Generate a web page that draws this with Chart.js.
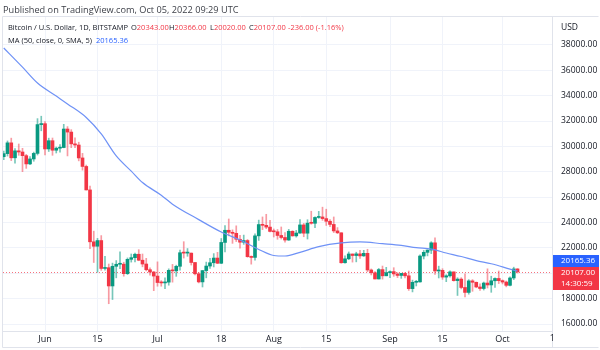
<!DOCTYPE html>
<html>
<head>
<meta charset="utf-8">
<title>Bitcoin / U.S. Dollar, 1D, BITSTAMP</title>
<script src="https://cdn.jsdelivr.net/npm/chart.js@4.4.1/dist/chart.umd.min.js"></script>
<style>
  html, body { margin: 0; padding: 0; background: #ffffff; }
  canvas { display: block; }
</style>
</head>
<body>
<canvas id="chart" width="600" height="350"></canvas>
<script>
// Daily BITSTAMP BTC/USD candles, 21 May - 5 Oct 2022
const dates = [
  '2022-05-21','2022-05-22','2022-05-23','2022-05-24','2022-05-25','2022-05-26','2022-05-27','2022-05-28','2022-05-29','2022-05-30','2022-05-31',
  '2022-06-01','2022-06-02','2022-06-03','2022-06-04','2022-06-05','2022-06-06','2022-06-07','2022-06-08','2022-06-09','2022-06-10',
  '2022-06-11','2022-06-12','2022-06-13','2022-06-14','2022-06-15','2022-06-16','2022-06-17','2022-06-18','2022-06-19','2022-06-20',
  '2022-06-21','2022-06-22','2022-06-23','2022-06-24','2022-06-25','2022-06-26','2022-06-27','2022-06-28','2022-06-29','2022-06-30',
  '2022-07-01','2022-07-02','2022-07-03','2022-07-04','2022-07-05','2022-07-06','2022-07-07','2022-07-08','2022-07-09','2022-07-10',
  '2022-07-11','2022-07-12','2022-07-13','2022-07-14','2022-07-15','2022-07-16','2022-07-17','2022-07-18','2022-07-19','2022-07-20',
  '2022-07-21','2022-07-22','2022-07-23','2022-07-24','2022-07-25','2022-07-26','2022-07-27','2022-07-28','2022-07-29','2022-07-30','2022-07-31',
  '2022-08-01','2022-08-02','2022-08-03','2022-08-04','2022-08-05','2022-08-06','2022-08-07','2022-08-08','2022-08-09','2022-08-10',
  '2022-08-11','2022-08-12','2022-08-13','2022-08-14','2022-08-15','2022-08-16','2022-08-17','2022-08-18','2022-08-19','2022-08-20',
  '2022-08-21','2022-08-22','2022-08-23','2022-08-24','2022-08-25','2022-08-26','2022-08-27','2022-08-28','2022-08-29','2022-08-30','2022-08-31',
  '2022-09-01','2022-09-02','2022-09-03','2022-09-04','2022-09-05','2022-09-06','2022-09-07','2022-09-08','2022-09-09','2022-09-10',
  '2022-09-11','2022-09-12','2022-09-13','2022-09-14','2022-09-15','2022-09-16','2022-09-17','2022-09-18','2022-09-19','2022-09-20',
  '2022-09-21','2022-09-22','2022-09-23','2022-09-24','2022-09-25','2022-09-26','2022-09-27','2022-09-28','2022-09-29','2022-09-30',
  '2022-10-01','2022-10-02','2022-10-03','2022-10-04','2022-10-05'
];

const opens = [
  29190,29430,30280,29100,29650,29560,29270,28620,29010,29450,31720,
  31790,29800,30450,29700,29860,29910,31370,31130,30200,30110,
  29090,28420,26570,22480,22130,22580,20380,20440,19000,20550,
  20710,20720,19970,21100,21230,21500,21030,20730,20280,20100,
  19780,19270,19240,19300,20230,20190,20550,21620,21590,21590,
  20850,19960,19320,20210,20570,20830,21200,20790,22430,23390,
  23230,23150,22680,22450,22580,21310,21250,22950,23840,23780,23640,
  23300,23270,22980,22820,22620,23310,22950,23170,23810,23160,
  23950,23940,24400,24440,24310,24100,23850,23340,23190,20830,
  21140,21520,21400,21530,21370,21570,20260,20040,19550,20290,19800,
  20050,20130,19950,19830,19990,19800,18790,19290,19320,21360,
  21650,21830,22400,20180,20230,19700,19800,20110,19420,19540,
  18880,18490,19400,19290,18920,18800,19230,19080,19410,19590,
  19420,19310,19050,19630,20343
];

const highs = [
  29640,30430,30650,29830,30190,29850,29370,29190,29550,32190,32380,
  31950,30650,30660,29950,30140,31740,31560,31320,30670,30330,
  29450,28530,26870,23320,22750,22970,21330,20730,20800,21000,
  21700,20870,21210,21520,21600,21860,21520,21180,20420,20150,
  20900,19420,19640,20350,20700,20640,21830,22490,21950,21600,
  20850,20050,20230,20880,21180,21550,21650,22740,23750,24280,
  23420,23740,22990,23010,22660,21370,23100,24190,24440,24650,24180,
  23490,23450,23650,23200,23460,23350,23380,24240,23930,24220,
  24890,24440,24880,25210,25050,24240,24440,23600,23200,21370,
  21680,21520,21660,21810,21810,21890,20340,20140,20380,20570,20470,
  20200,20440,20050,20000,20050,20180,19460,19440,21450,21800,
  21850,22490,22790,20560,20360,19890,20190,20110,19650,19650,
  19950,19500,19500,19310,19170,19310,20350,19770,19640,20180,
  19480,19390,19710,20480,20366
];

const lows = [
  28950,29240,28880,28670,29300,28010,28270,28560,28830,29320,31230,
  29330,29600,29300,29480,29540,29890,29250,29900,29910,28860,
  28130,26560,21930,20850,20080,20230,20240,17600,17930,19640,
  20360,19770,19900,20880,20900,20990,20510,20190,19850,18630,
  18980,18980,18780,19060,19300,19760,20250,21200,21340,20650,
  19880,19240,18920,19640,20390,20500,20760,20760,21690,22950,
  22360,22500,21970,22280,21260,20720,21030,22590,23440,23510,23250,
  22860,22680,22700,22450,22590,22920,22850,23150,22880,22700,
  23870,23590,24330,24170,23770,23680,23210,23120,20790,20800,
  21070,20880,20900,21170,21330,20120,19870,19550,19550,19540,19800,
  19650,19760,19660,19600,19640,18650,18530,19000,19300,21130,
  21370,21550,19900,19630,19520,19340,19700,19380,18250,18770,
  18140,18350,18580,18860,18650,18680,18840,18500,18880,19190,
  19160,18930,19000,19500,20020
];

const closes = [
  29430,30280,29100,29650,29560,29270,28620,29010,29450,31720,31790,
  29800,30450,29700,29860,29910,31370,31130,30200,30110,29090,
  28420,26570,22480,22130,22580,20380,20440,19000,20550,20710,
  20720,19970,21100,21230,21500,21030,20730,20280,20100,19780,
  19270,19240,19300,20230,20190,20550,21620,21590,21590,20850,
  19960,19320,20210,20570,20830,21200,20790,22430,23390,23230,
  23150,22680,22450,22580,21310,21250,22950,23840,23780,23640,23300,
  23270,22980,22820,22620,23310,22950,23170,23810,23160,23950,
  23940,24400,24440,24310,24100,23850,23340,23190,20830,21140,
  21520,21400,21530,21370,21570,20260,20040,19550,20290,19800,20050,
  20130,19950,19830,19990,19800,18790,19290,19320,21360,21650,
  21830,22400,20180,20230,19700,19800,20110,19420,19540,18880,
  18490,19400,19290,18920,18800,19230,19080,19410,19590,19420,
  19310,19050,19630,20343,20107
];

// 50-day simple moving average of the close
const maDates = [
  '2022-05-21','2022-05-26','2022-05-30','2022-06-04','2022-06-07','2022-06-12','2022-06-16','2022-06-20',
  '2022-06-24','2022-06-27','2022-07-02','2022-07-05','2022-07-12','2022-07-18','2022-07-23','2022-07-28',
  '2022-08-01','2022-08-04','2022-08-08','2022-08-13','2022-08-19','2022-08-24','2022-08-30','2022-09-04',
  '2022-09-08','2022-09-12','2022-09-16','2022-09-20','2022-09-24','2022-09-28','2022-10-03','2022-10-05'
];
const maValues = [
  37760,36250,35000,33970,33350,32280,30980,29250,
  28050,27150,26150,25450,24230,23250,22620,21880,
  21400,21360,21650,22100,22390,22470,22330,22200,
  22020,21900,21600,21320,21000,20750,20330,20165.36
];

// Time axis labels
const tickDates = ['2022-06-01','2022-06-15','2022-07-01','2022-07-18','2022-08-01','2022-08-15','2022-09-01','2022-09-15','2022-10-01','2022-10-15'];
const tickLabels = ['Jun','15','Jul','18','Aug','15','Sep','15','Oct','15'];

// Price axis labels
const priceTicks = [16000,18000,20000,22000,24000,26000,28000,30000,32000,34000,36000,38000];

const countdown = '14:30:59';

const FONT = '"Open Sans", "DejaVu Sans", sans-serif';
const UP = '#089981', DOWN = '#f23645';
const UP_WICK = 'rgba(8,153,129,0.55)', DOWN_WICK = 'rgba(242,54,69,0.5)';
const TEXT = '#131722';

const origin = Date.parse('2022-06-01');
const dayOf = s => (Date.parse(s) - origin) / 86400000;
const tickDays = tickDates.map(dayOf);
const last = closes.length - 1;
const isUp = i => closes[i] >= opens[i];

const wickData = dates.map((d, i) => ({ x: dayOf(d), y: [lows[i], highs[i]] }));
const bodyData = dates.map((d, i) => ({ x: dayOf(d), y: [opens[i], closes[i]] }));
const maData = maDates.map((d, i) => ({ x: dayOf(d), y: maValues[i] }));

const fmt = v => v.toFixed(2);

const overlay = {
  id: 'overlay',
  beforeDatasetsDraw(chart) {
    const { ctx, chartArea: a, scales: { y } } = chart;
    const py = Math.round(y.getPixelForValue(closes[last])) + 0.5;
    ctx.save();
    ctx.strokeStyle = 'rgba(242,54,69,0.7)';
    ctx.lineWidth = 1;
    ctx.setLineDash([1, 2]);
    ctx.beginPath();
    ctx.moveTo(a.left, py);
    ctx.lineTo(a.right, py);
    ctx.stroke();
    ctx.restore();
  },
  afterDraw(chart) {
    const { ctx, chartArea: a, scales: { x, y } } = chart;
    ctx.save();

    // pane frame
    ctx.strokeStyle = '#e0e3eb';
    ctx.lineWidth = 1;
    ctx.beginPath();
    ctx.moveTo(a.left - 0.5, a.top - 0.5); ctx.lineTo(598.5, a.top - 0.5);
    ctx.moveTo(a.left - 0.5, a.top - 0.5); ctx.lineTo(a.left - 0.5, 347.5);
    ctx.lineTo(598.5, 347.5);
    ctx.moveTo(a.right + 0.5, a.bottom); ctx.lineTo(a.right + 0.5, 347.5);
    ctx.stroke();

    // clipped label for the next time tick
    const nextX = x.getPixelForValue(dayOf('2022-10-15'));
    ctx.save();
    ctx.beginPath(); ctx.rect(0, a.bottom, a.right + 3, 20); ctx.clip();
    ctx.font = '9px ' + FONT; ctx.fillStyle = TEXT;
    ctx.textAlign = 'center'; ctx.textBaseline = 'middle';
    ctx.fillText('15', nextX, 338);
    ctx.restore();

    ctx.textBaseline = 'middle';
    ctx.textAlign = 'left';

    // publication line
    ctx.font = '9.2px ' + FONT;
    ctx.fillStyle = '#3c3f47';
    ctx.fillText('Published on TradingView.com, Oct 05, 2022 09:29 UTC', 3, 10);

    // symbol legend
    ctx.font = '7.5px ' + FONT;
    ctx.fillStyle = TEXT;
    ctx.fillText('Bitcoin / U.S. Dollar, 1D, BITSTAMP', 8, 28);
    const change = closes[last] - closes[last - 1];
    const pct = change / closes[last - 1] * 100;
    const parts = [['O', opens[last], 131], ['H', highs[last], 169], ['L', lows[last], 210], ['C', closes[last], 249]];
    const valColor = isUp(last) ? UP : DOWN;
    parts.forEach(([k, v, px]) => {
      ctx.fillStyle = TEXT;
      ctx.fillText(k, px, 28);
      const w = ctx.measureText(k).width;
      ctx.fillStyle = valColor;
      ctx.fillText(fmt(v), px + w, 28);
    });
    ctx.fillStyle = valColor;
    ctx.fillText((change >= 0 ? '+' : '') + fmt(change) + ' (' + (pct >= 0 ? '+' : '') + pct.toFixed(2) + '%)', 288, 28);

    ctx.fillStyle = TEXT;
    ctx.fillText('MA (50, close, 0, SMA, 5)', 8, 41);
    ctx.fillStyle = '#2962ff';
    ctx.fillText(fmt(maValues[maValues.length - 1]), 96, 41);

    // price scale header
    ctx.font = '8.5px ' + FONT;
    ctx.fillStyle = TEXT;
    ctx.fillText('USD', 561, 28);

    // last value badges
    const py = Math.round(y.getPixelForValue(closes[last]));
    const bx = a.right + 1, bw = 599 - a.right - 1;
    ctx.fillStyle = '#2962ff';
    ctx.fillRect(bx, py - 17, bw, 12);
    ctx.fillStyle = DOWN;
    ctx.fillRect(bx, py - 5, bw, 23);
    ctx.fillStyle = '#ffffff';
    ctx.font = '8px ' + FONT;
    ctx.fillText(fmt(maValues[maValues.length - 1]), 561, py - 11);
    ctx.fillText(fmt(closes[last]), 561, py + 1);
    ctx.fillText(countdown, 561, py + 12);

    ctx.restore();
  }
};

new Chart(document.getElementById('chart'), {
  type: 'bar',
  data: {
    datasets: [
      {
        type: 'line',
        label: 'MA (50, close, 0, SMA, 5)',
        data: maData,
        borderColor: '#6f92f6',
        borderWidth: 1.2,
        pointRadius: 0,
        cubicInterpolationMode: 'monotone',
        order: 0
      },
      {
        label: 'Body',
        data: bodyData,
        grouped: false,
        barThickness: 3,
        minBarLength: 1,
        borderWidth: 0,
        backgroundColor: ctx => isUp(ctx.dataIndex) ? UP : DOWN,
        order: 1
      },
      {
        label: 'Wick',
        data: wickData,
        grouped: false,
        barThickness: 1,
        borderWidth: 0,
        backgroundColor: ctx => isUp(ctx.dataIndex) ? UP_WICK : DOWN_WICK,
        order: 2
      }
    ]
  },
  options: {
    responsive: false,
    animation: false,
    events: [],
    layout: { padding: { left: 3, top: 17, right: 0, bottom: 3 } },
    plugins: {
      legend: { display: false },
      tooltip: { enabled: false },
      title: { display: false }
    },
    scales: {
      x: {
        type: 'linear',
        min: -11.2,
        max: 135.2,
        offset: false,
        grid: { color: '#f0f3fa', drawTicks: false, offset: false },
        border: { color: '#e0e3eb' },
        ticks: {
          font: { family: FONT, size: 9 },
          color: TEXT,
          padding: 3,
          maxRotation: 0,
          autoSkip: false,
          callback: v => { const i = tickDays.indexOf(v); return i < 0 ? '' : tickLabels[i]; }
        },
        afterBuildTicks: s => { s.ticks = tickDays.filter(d => d >= s.min && d <= s.max).map(v => ({ value: v })); },
        afterFit: s => { s.height = 16; }
      },
      y: {
        position: 'right',
        min: 15450,
        max: 40200,
        grid: { color: '#f0f3fa', drawTicks: false },
        border: { color: '#e0e3eb' },
        ticks: {
          font: { family: FONT, size: 8.5 },
          color: TEXT,
          padding: 9,
          callback: v => fmt(v)
        },
        afterBuildTicks: s => { s.ticks = priceTicks.map(v => ({ value: v })); },
        afterFit: s => { s.width = 48; }
      }
    }
  },
  plugins: [overlay]
});
</script>
</body>
</html>
